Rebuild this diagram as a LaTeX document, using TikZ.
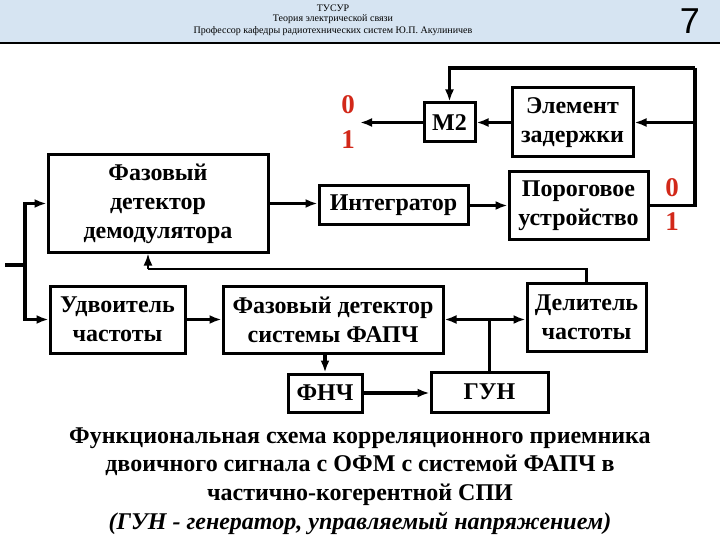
\documentclass[tikz,border=0pt]{standalone}
\usepackage{fontspec}
\setmainfont{Liberation Serif}
\newfontfamily\headsans{Liberation Sans}
\usepackage{xcolor}
\usepackage{tikz}
\usetikzlibrary{positioning}
\usetikzlibrary{arrows.meta}
\definecolor{headblue}{RGB}{214,228,242}
\definecolor{bitred}{RGB}{210,40,25}
\tikzset{edge/.style = {-{Latex[length=12pt,width=9pt]}, line width=3.2pt}}
\tikzset{thinedge/.style = {line width=2.2pt}}

\begin{document}
\begin{tikzpicture}[x=1pt,y=-1pt,block/.style={draw,line width=3pt,align=center,inner sep=0pt,font=\fontsize{24}{29}\selectfont\bfseries},
                    bit/.style={text=bitred,font=\fontsize{27}{27}\selectfont\bfseries}]
                \useasboundingbox (0,0) rectangle (720,540);
                % header
                \fill[headblue] (0,0) rectangle (720,43);
                \draw[line width=1.8pt] (0,43) -- (720,43);
                \node (h1) at (333,8) {\fontsize{10}{10}\selectfont ТУСУР};
                \node (h2) at (333,19) {\fontsize{10}{10}\selectfont Теория электрической связи};
                \node (h3) at (333,31) {\fontsize{10}{10}\selectfont Профессор кафедры радиотехнических систем Ю.П. Акулиничев};
                \node (pg) at (690,21) {\headsans\fontsize{36}{36}\selectfont 7};

                % blocks
                \node[block,minimum width=220pt,minimum height=97pt] (demod) at (158,203.5) {Фазовый\\детектор\\демодулятора};
                \node[block,minimum width=149pt,minimum height=39pt] (integ) at (393.5,205.5) {Интегратор};
                \node[block,minimum width=51pt,minimum height=39pt] (m2) at (449.5,122.5) {М2};
                \node[block,minimum width=121pt,minimum height=69pt] (delay) at (572.5,122.5) {Элемент\\задержки};
                \node[block,minimum width=139pt,minimum height=67pt] (thr) at (578.5,205.5) {Пороговое\\устройство};
                \node[block,minimum width=135pt,minimum height=67pt] (dbl) at (117.5,319.5) {Удвоитель\\частоты};
                \node[block,minimum width=220pt,minimum height=67pt] (pll) at (333,319.5) {Фазовый детектор\\системы ФАПЧ};
                \node[block,minimum width=119pt,minimum height=68pt] (div) at (586.5,317) {Делитель\\частоты};
                \node[block,minimum width=74pt,minimum height=38pt] (lpf) at (325,393) {ФНЧ};
                \node[block,minimum width=117pt,minimum height=40pt] (vco) at (489.5,392) {ГУН};

                % bits
                \node[bit] (b0) at (348,105) {0};
                \node[bit] (b1) at (348,140) {1};
                \node[bit] (t0) at (672,188) {0};
                \node[bit] (t1) at (672,222) {1};

                \coordinate (in) at (5,265);
                \coordinate (j) at (25,265);
                \coordinate (out) at (360,122.5);
                \coordinate (tr) at (695,205.5);
                \coordinate (tt) at (695,68);
                \coordinate (fb) at (148,269);

                \draw[line width=3.2pt] (in) -- (j);
                \draw[edge] (j) |- (demod.west);
                \draw[edge] (j) |- (dbl.west);
                \draw[edge] (demod.east) -- (demod.east -| integ.west);
                \draw[edge] (integ.east) -- (thr.west);
                \draw[line width=3.2pt] (thr.east) -- (tr) -- (tt);
                \draw[edge] (tt) -| (m2.north);
                \draw[edge] (delay.east -| tr) -- (delay.east);
                \draw[edge] (delay.west) -- (m2.east);
                \draw[edge] (m2.west) -- (out);
                \draw[edge] (dbl.east) -- (pll.west);
                \draw[edge,{Latex[length=12pt,width=9pt]}-{Latex[length=12pt,width=9pt]}] (pll.east) -- (pll.east -| div.west);
                \draw[thinedge] (vco.north) -- (vco.north |- pll.east);
                \draw[thinedge] (div.north) |- (fb);
                \draw[edge,line width=2.2pt] (fb) -- (fb |- demod.south);
                \draw[edge] (lpf.north |- pll.south) -- (lpf.north);
                \draw[edge] (lpf.east) -- (lpf.east -| vco.west);

                % caption
                \node[align=center,font=\fontsize{24}{28.7}\selectfont\bfseries] (cap) at (360,481)
                    {Функциональная схема корреляционного приемника\\
                     двоичного сигнала с ОФМ с системой ФАПЧ в\\
                     частично-когерентной СПИ\\
                     \itshape (ГУН - генератор, управляемый напряжением)};
            \end{tikzpicture}
\end{document}
